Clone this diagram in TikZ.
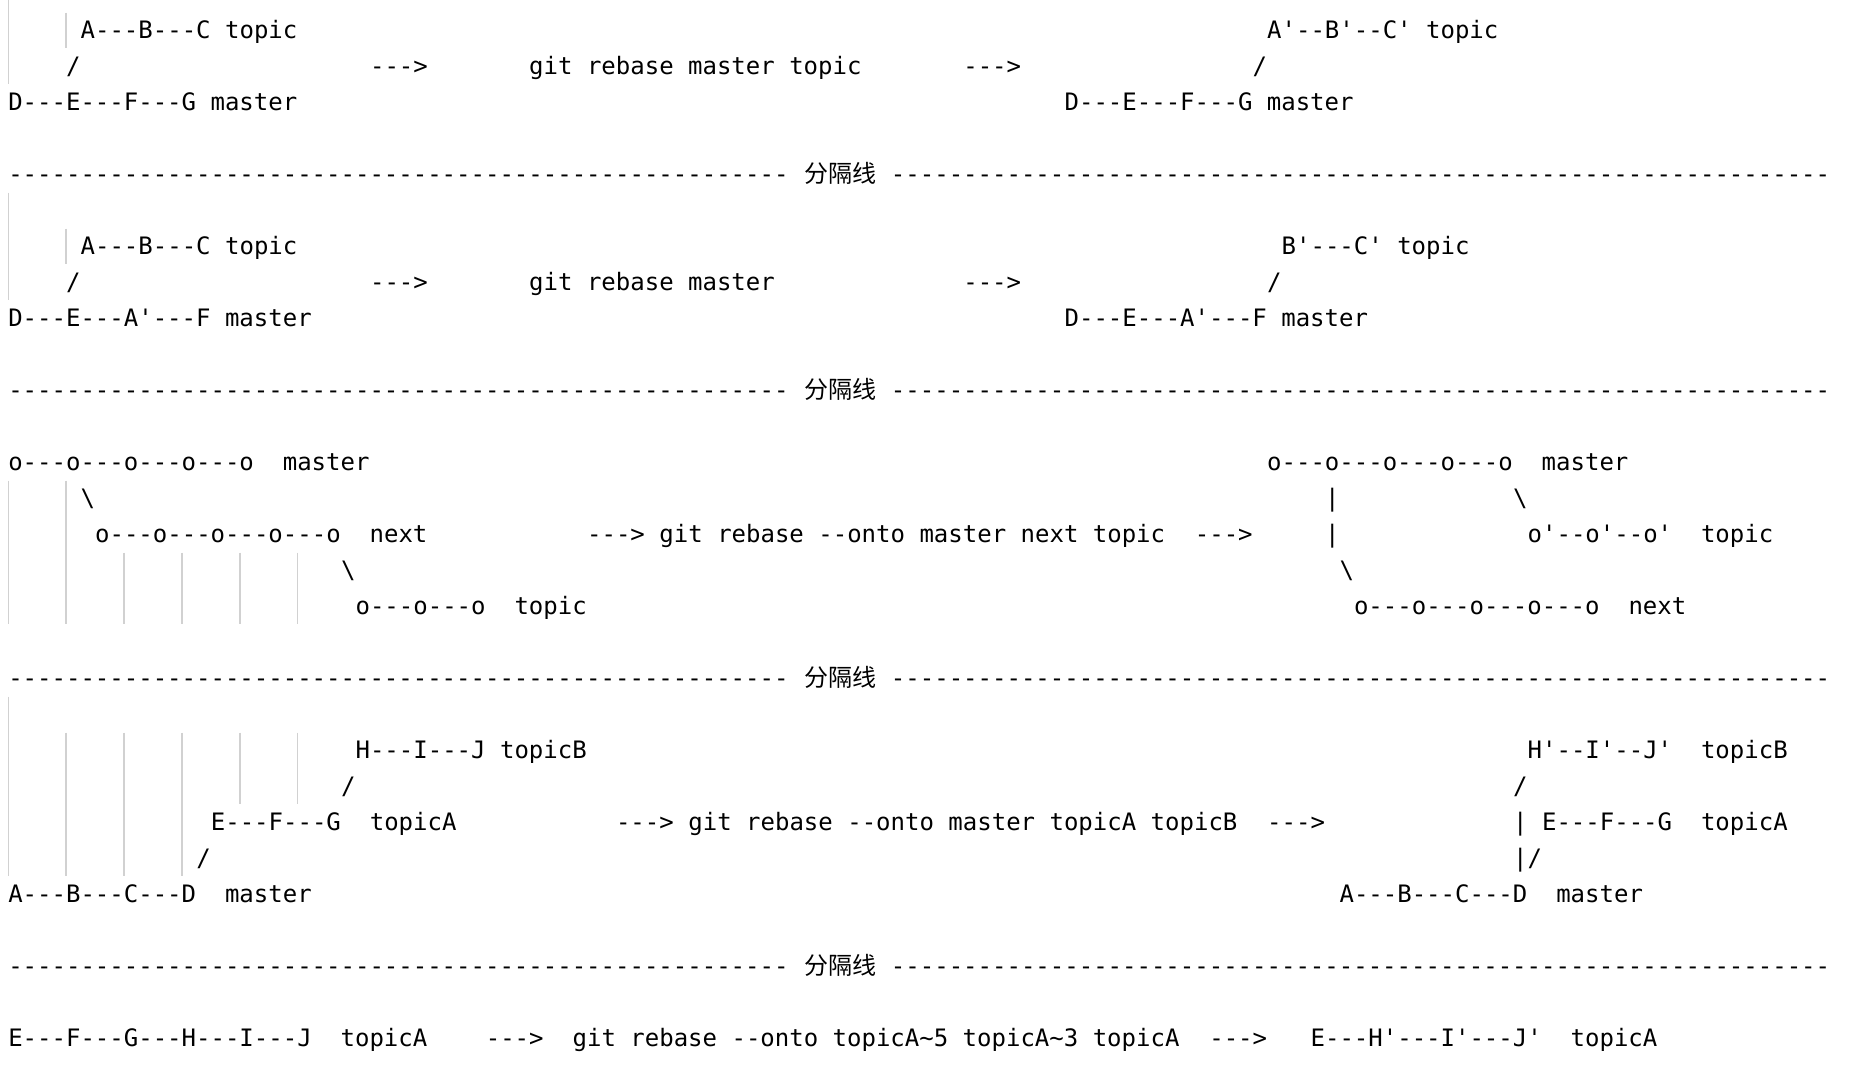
\documentclass[tikz,border=0pt]{standalone}
\usepackage{fontspec}
\setmonofont{DejaVu Sans Mono}
\newfontfamily\cjkfont{Noto Sans CJK SC}

\begin{document}
\begin{tikzpicture}[x=7.235pt, y=-18pt]
	% Stili per il testo e le guide di indentazione
	\tikzset{testo/.style={anchor=base west, inner sep=0pt, outer sep=0pt, font=\ttfamily\fontsize{12}{14}\selectfont},
		cinese/.style={testo, font=\cjkfont\fontsize{12}{14}\selectfont},
		guida/.style={draw=black!18, line width=0.75pt}}
	\useasboundingbox (-4.15pt,19.25pt) rectangle ++(926pt,-537pt);

	% Guide di indentazione
	\draw[guida] (0,-1.07) -- (0,1.26);
	\draw[guida] (4,-0.72) -- (4,0.26);
	\draw[guida] (0,4.28) -- (0,7.26);
	\draw[guida] (4,5.28) -- (4,6.26);
	\foreach \c in {0,4} {\draw[guida] (\c,12.28) -- (\c,16.26);}
	\foreach \c in {8,12,16,20} {\draw[guida] (\c,14.28) -- (\c,16.26);}
	\draw[guida] (0,18.28) -- (0,23.26);
	\foreach \c in {4,8,12} {\draw[guida] (\c,19.28) -- (\c,23.26);}
	\foreach \c in {16,20} {\draw[guida] (\c,19.28) -- (\c,21.26);}

	% Sezione 1: git rebase master topic
	\node[testo] (s1topic)    at (5,0)  {A---B---C topic};
	\node[testo] (s1slash)    at (4,1)  {/};
	\node[testo] (s1master)   at (0,2)  {D---E---F---G master};
	\node[testo] (s1freccia1) at (25,1) {--->};
	\node[testo] (s1cmd)      at (36,1) {git rebase master topic};
	\node[testo] (s1freccia2) at (66,1) {--->};
	\node[testo] (s1topicR)   at (87,0) {A'--B'--C' topic};
	\node[testo] (s1slashR)   at (86,1) {/};
	\node[testo] (s1masterR)  at (73,2) {D---E---F---G master};

	% Sezione 2: git rebase master
	\node[testo] (s2topic)    at (5,6)  {A---B---C topic};
	\node[testo] (s2slash)    at (4,7)  {/};
	\node[testo] (s2master)   at (0,8)  {D---E---A'---F master};
	\node[testo] (s2freccia1) at (25,7) {--->};
	\node[testo] (s2cmd)      at (36,7) {git rebase master};
	\node[testo] (s2freccia2) at (66,7) {--->};
	\node[testo] (s2topicR)   at (88,6) {B'---C' topic};
	\node[testo] (s2slashR)   at (87,7) {/};
	\node[testo] (s2masterR)  at (73,8) {D---E---A'---F master};

	% Sezione 3: --onto master next topic
	\node[testo] (s3master)   at (0,12)  {o---o---o---o---o\ \ master};
	\node[testo] (s3back1)    at (5,13)  {\textbackslash};
	\node[testo] (s3next)     at (6,14)  {o---o---o---o---o\ \ next};
	\node[testo] (s3back2)    at (23,15) {\textbackslash};
	\node[testo] (s3topic)    at (24,16) {o---o---o\ \ topic};
	\node[testo] (s3freccia1) at (40,14) {--->};
	\node[testo] (s3cmd)      at (45,14) {git rebase --onto master next topic};
	\node[testo] (s3freccia2) at (82,14) {--->};
	\node[testo] (s3masterR)  at (87,12) {o---o---o---o---o\ \ master};
	\node[testo] (s3bar1)     at (91,13) {|};
	\node[testo] (s3back3)    at (104,13) {\textbackslash};
	\node[testo] (s3bar2)     at (91,14) {|};
	\node[testo] (s3topicR)   at (105,14) {o'--o'--o'\ \ topic};
	\node[testo] (s3back4)    at (92,15) {\textbackslash};
	\node[testo] (s3nextR)    at (93,16) {o---o---o---o---o\ \ next};

	% Sezione 4: --onto master topicA topicB
	\node[testo] (s4topicB)   at (24,20) {H---I---J topicB};
	\node[testo] (s4slash1)   at (23,21) {/};
	\node[testo] (s4topicA)   at (14,22) {E---F---G\ \ topicA};
	\node[testo] (s4slash2)   at (13,23) {/};
	\node[testo] (s4master)   at (0,24)  {A---B---C---D\ \ master};
	\node[testo] (s4freccia1) at (42,22) {--->};
	\node[testo] (s4cmd)      at (47,22) {git rebase --onto master topicA topicB};
	\node[testo] (s4freccia2) at (87,22) {--->};
	\node[testo] (s4topicBR)  at (105,20) {H'--I'--J'\ \ topicB};
	\node[testo] (s4slashR)   at (104,21) {/};
	\node[testo] (s4topicAR)  at (104,22) {|\ E---F---G\ \ topicA};
	\node[testo] (s4barR)     at (104,23) {|/};
	\node[testo] (s4masterR)  at (92,24)  {A---B---C---D\ \ master};

	% Sezione 5: --onto topicA~5 topicA~3 topicA
	\node[testo] (s5topicA)   at (0,28)  {E---F---G---H---I---J\ \ topicA};
	\node[testo] (s5freccia1) at (33,28) {--->};
	\node[testo] (s5cmd)      at (39,28) {git rebase --onto topicA\textasciitilde 5 topicA\textasciitilde 3 topicA};
	\node[testo] (s5freccia2) at (83,28) {--->};
	\node[testo] (s5topicAR)  at (90,28) {E---H'---I'---J'\ \ topicA};

	% Linee di separazione
	\foreach \r in {4,10,18,26} {
		\node[testo] (sepL\r) at (0,\r) {\foreach \i in {1,...,54}{-}};
		\node[cinese] (sepT\r) at (55,\r) {分隔线};
		\node[testo] (sepR\r) at (61,\r) {\foreach \i in {1,...,65}{-}};
	}
\end{tikzpicture}
\end{document}
